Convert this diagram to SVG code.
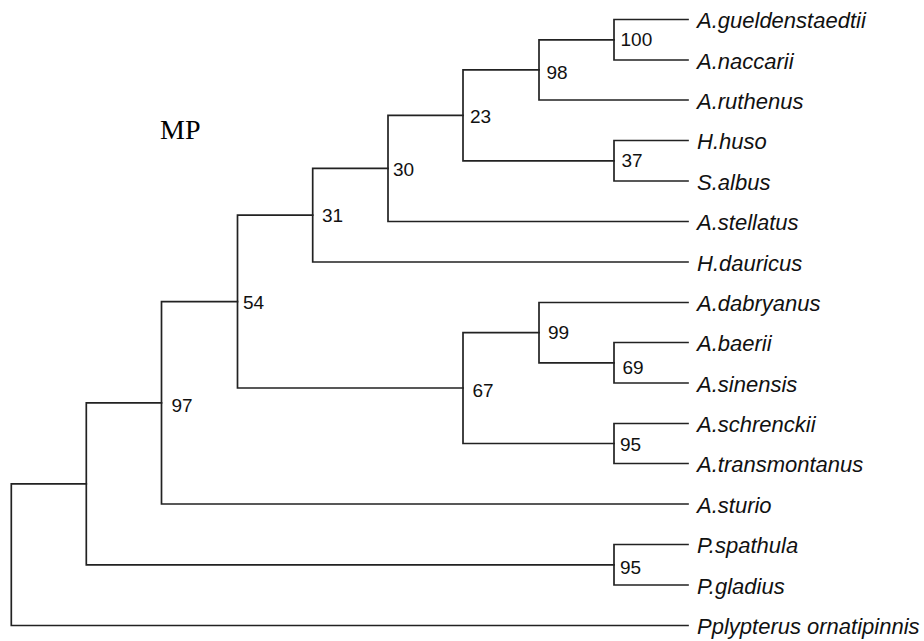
<svg xmlns="http://www.w3.org/2000/svg" width="924" height="641" viewBox="0 0 924 641">
<style>
.br{fill:none;stroke:#222;stroke-width:1.7;stroke-linecap:square}
.leaf{font-family:"Liberation Sans",Arial,sans-serif;font-style:italic;font-size:22px;fill:#111}
.bs{font-family:"Liberation Sans",Arial,sans-serif;font-size:19px;fill:#111}
.title{font-family:"Liberation Serif","Times New Roman",serif;font-size:28px;fill:#000}
</style>
<rect width="924" height="641" fill="#fff"/>
<g id="connectors">
<path class="br" d="M688 19.5H614V60H688"/>
<path class="br" d="M614 39.8H539V100H688"/>
<path class="br" d="M688 140.5H614V181H688"/>
<path class="br" d="M539 69.9H463V160.8H614"/>
<path class="br" d="M463 115.3H388V221.5H688"/>
<path class="br" d="M388 168.4H312.7V262H688"/>
<path class="br" d="M688 342.5H614V383H688"/>
<path class="br" d="M688 302.5H539V362.8H614"/>
<path class="br" d="M688 423.5H614V463.5H688"/>
<path class="br" d="M539 332.6H463V443.5H614"/>
<path class="br" d="M312.7 215.2H237.5V388H463"/>
<path class="br" d="M237.5 301.6H161.5V504H688"/>
<path class="br" d="M688 544.5H614V585H688"/>
<path class="br" d="M161.5 402.8H86.3V564.8H614"/>
<path class="br" d="M86.3 483.8H11.3V625.5H688"/>
</g>
<g id="title"><text class="title" x="160" y="139">MP</text></g>
<g id="leaves">
<g id="leaf-gueldenstaedtii"><text class="leaf" x="697" y="28">A.gueldenstaedtii</text></g>
<g id="leaf-naccarii"><text class="leaf" x="697" y="68.5">A.naccarii</text></g>
<g id="leaf-ruthenus"><text class="leaf" x="697" y="108.5">A.ruthenus</text></g>
<g id="leaf-huso"><text class="leaf" x="697" y="149">H.huso</text></g>
<g id="leaf-albus"><text class="leaf" x="697" y="189.5">S.albus</text></g>
<g id="leaf-stellatus"><text class="leaf" x="697" y="230">A.stellatus</text></g>
<g id="leaf-dauricus"><text class="leaf" x="697" y="270.5">H.dauricus</text></g>
<g id="leaf-dabryanus"><text class="leaf" x="697" y="311">A.dabryanus</text></g>
<g id="leaf-baerii"><text class="leaf" x="697" y="351">A.baerii</text></g>
<g id="leaf-sinensis"><text class="leaf" x="697" y="391.5">A.sinensis</text></g>
<g id="leaf-schrenckii"><text class="leaf" x="697" y="432">A.schrenckii</text></g>
<g id="leaf-transmontanus"><text class="leaf" x="697" y="472">A.transmontanus</text></g>
<g id="leaf-sturio"><text class="leaf" x="697" y="512.5">A.sturio</text></g>
<g id="leaf-spathula"><text class="leaf" x="697" y="553">P.spathula</text></g>
<g id="leaf-gladius"><text class="leaf" x="697" y="593.5">P.gladius</text></g>
<g id="leaf-ornatipinnis"><text class="leaf" x="697" y="634">Pplypterus ornatipinnis</text></g>
</g>
<g id="supports">
<g id="n100"><text class="bs" x="620.5" y="46">100</text></g>
<g id="n98"><text class="bs" x="546.5" y="79">98</text></g>
<g id="n37"><text class="bs" x="621.5" y="166.5">37</text></g>
<g id="n23"><text class="bs" x="470" y="123">23</text></g>
<g id="n30"><text class="bs" x="393" y="175.5">30</text></g>
<g id="n31"><text class="bs" x="322" y="222">31</text></g>
<g id="n54"><text class="bs" x="243" y="309">54</text></g>
<g id="n97"><text class="bs" x="171.5" y="411.5">97</text></g>
<g id="n67"><text class="bs" x="472.5" y="397">67</text></g>
<g id="n99"><text class="bs" x="548" y="339">99</text></g>
<g id="n69"><text class="bs" x="622.5" y="374">69</text></g>
<g id="n95a"><text class="bs" x="620" y="450.5">95</text></g>
<g id="n95b"><text class="bs" x="620" y="574">95</text></g>
</g>
</svg>
